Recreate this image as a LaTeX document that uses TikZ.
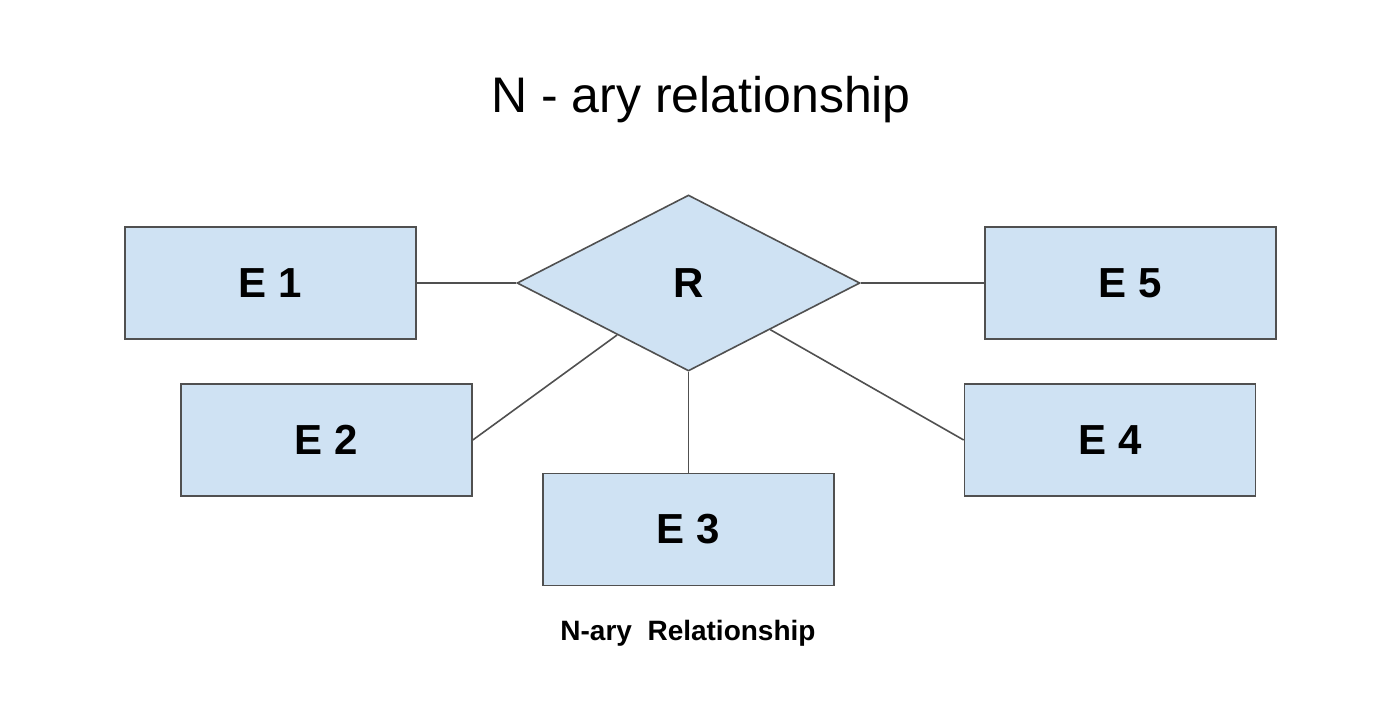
\documentclass[tikz,border=0pt]{standalone}
\usepackage{fontspec}
\setmainfont{Liberation Sans}
\usetikzlibrary{shapes.geometric}

\definecolor{entfill}{HTML}{CFE2F3}
\definecolor{entdraw}{HTML}{505050}

\begin{document}
\begin{tikzpicture}[x=0.5pt, y=-0.5pt,
        entity/.style={draw=entdraw, line width=0.8pt, fill=entfill, minimum width=145.5pt, minimum height=56pt, inner sep=0pt, font=\fontsize{21}{25}\selectfont\bfseries},
        relation/.style={diamond, draw=entdraw, line width=0.8pt, fill=entfill, aspect=1.95, minimum width=171.5pt, minimum height=88pt, inner sep=0pt, font=\fontsize{21}{25}\selectfont\bfseries},
        link/.style={draw=entdraw, line width=0.8pt}]
    \useasboundingbox (0,0) rectangle (1392,709);
    \node[anchor=base, font=\fontsize{25}{30}\selectfont] (title) at (701,112) {N - ary relationship};
    % relationship and entities
    \node[relation] (R) at (688.5,283) {R};
    \node[entity] (E1) at (270.5,283) {E 1};
    \node[entity] (E2) at (326.5,440) {E 2};
    \node[entity] (E3) at (688.5,529.5) {E 3};
    \node[entity] (E4) at (1110,440) {E 4};
    \node[entity] (E5) at (1130.5,283) {E 5};
    \node[anchor=base, font=\fontsize{14}{17}\selectfont\bfseries] (caption) at (688,640) {N-ary\ \ Relationship};
    % connectors
    \draw[link] (E1.east) -- (R.west);
    \draw[link] (E5.west) -- (R.east);
    \draw[link] (E3.north) -- (R.south);
    \draw[link] (E2.east) -- (R);
    \draw[link] (E4.west) -- (R);
\end{tikzpicture}
\end{document}
